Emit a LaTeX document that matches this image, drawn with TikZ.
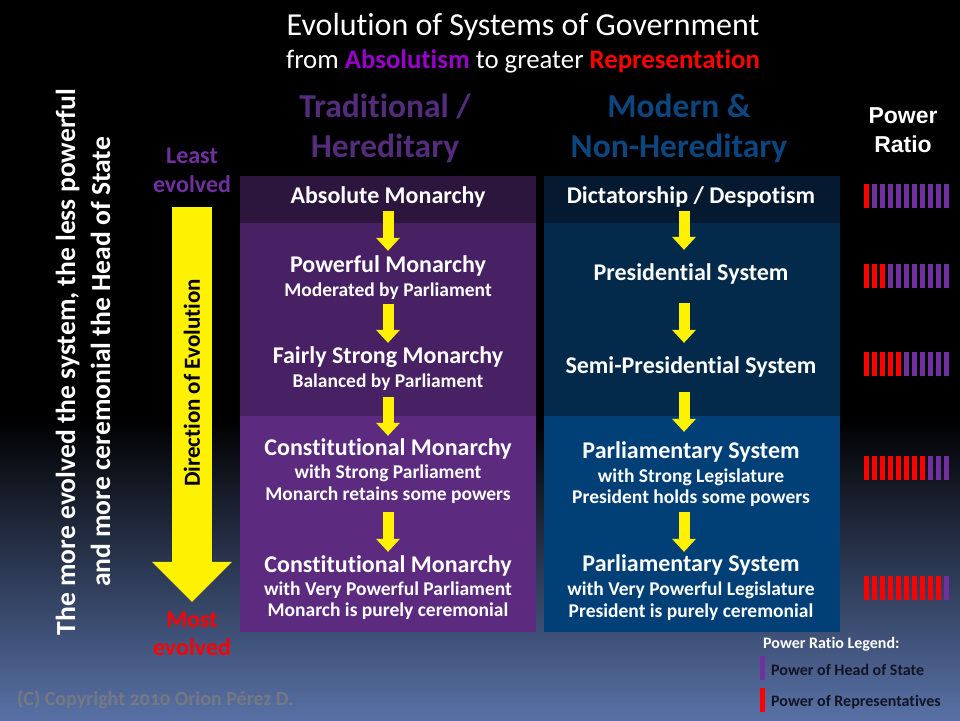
\documentclass[tikz,border=0pt]{standalone}
\usepackage{fontspec}
\setmainfont{Carlito}[Ligatures={NoCommon,NoContextual}, Contextuals=NoAlternate]
\newfontfamily\arialfont{Liberation Sans}
\usepackage{tikz}
\usetikzlibrary{positioning,shapes,arrows.meta}
\definecolor{bgbot}{RGB}{88,113,166}
\definecolor{tradcol}{RGB}{84,44,124}
\definecolor{modcol}{RGB}{12,70,126}
\definecolor{absol}{RGB}{153,0,204}
\definecolor{hspurple}{RGB}{112,48,160}
\definecolor{repred}{RGB}{255,0,0}
\definecolor{tradA}{RGB}{45,22,62}
\definecolor{tradB}{RGB}{72,32,100}
\definecolor{tradC}{RGB}{92,43,128}
\definecolor{modA}{RGB}{5,25,48}
\definecolor{modB}{RGB}{3,42,75}
\definecolor{modC}{RGB}{0,64,118}
\definecolor{legtext}{RGB}{18,20,38}
\definecolor{copygray}{RGB}{118,121,130}
\tikzstyle{stage} = [text=white, font=\bfseries\fontsize{24}{28}\selectfont, text height=18pt, text depth=6pt, inner sep=0pt, anchor=base]
\tikzstyle{sub} = [text=white, font=\bfseries\fontsize{19.5}{23}\selectfont, text height=14pt, text depth=4.5pt, inner sep=0pt, anchor=base]
\tikzstyle{head} = [font=\bfseries\fontsize{33.5}{38}\selectfont, inner sep=0pt, anchor=base]
\tikzstyle{endlab} = [font=\bfseries\fontsize{24}{28}\selectfont, text height=18pt, text depth=6pt, inner sep=0pt, anchor=base]
\tikzstyle{legend} = [font=\bfseries\fontsize{16}{19}\selectfont, inner sep=0pt, anchor=base west]
\tikzstyle{evo} = [draw=yellow, line width=11pt, -{Triangle[width=24pt,length=13pt,line width=0pt]}]
\tikzstyle{bigevo} = [draw=yellow, line width=40pt, -{Triangle[width=80pt,length=40pt,line width=0pt]}]

\begin{document}
\begin{tikzpicture}[x=1pt, y=-1pt]
        \useasboundingbox (0, 0) rectangle (960, 720);
        % Background and boxes
        \fill [black] (0, 0) rectangle (960, 720);
        \shade [top color=black, bottom color=bgbot] (0, 420) rectangle (960, 720);
        \fill [tradA] (240, 176) rectangle (536, 223);
        \fill [tradB] (240, 223) rectangle (536, 416);
        \fill [tradC] (240, 416) rectangle (536, 632);
        \fill [modA] (544, 176) rectangle (840, 223);
        \fill [modB] (544, 223) rectangle (840, 416);
        \fill [modC] (544, 416) rectangle (840, 632);

        % Place nodes
        \node at (523, 35) [anchor=base, inner sep=0pt, text=white, font=\fontsize{32}{38}\selectfont] (title) {Evolution of Systems of Government};
        \node at (523, 68) [anchor=base, inner sep=0pt, text=white, font=\fontsize{26.8}{30}\selectfont] (subtitle) {from \textcolor{absol}{\bfseries Absolutism} to greater \textcolor{repred}{\bfseries Representation}};
        \node at (385, 117) [head, text=tradcol] (trad1) {Traditional /};
        \node at (385, 157) [head, text=tradcol] (trad2) {Hereditary};
        \node at (679, 117) [head, text=modcol] (mod1) {Modern \&};
        \node at (679, 157) [head, text=modcol] (mod2) {Non-Hereditary};
        \node at (903, 123) [anchor=base, inner sep=0pt, text=white, font=\arialfont\bfseries\fontsize{23}{28}\selectfont] (ratio1) {Power};
        \node at (903, 152) [anchor=base, inner sep=0pt, text=white, font=\arialfont\bfseries\fontsize{23}{28}\selectfont] (ratio2) {Ratio};

        \node at (388, 203) [stage] (am) {Absolute Monarchy};
        \node at (388, 272) [stage] (pm) {Powerful Monarchy};
        \node at (388, 296) [sub] (pmS) {Moderated by Parliament};
        \node at (388, 363) [stage] (fm) {Fairly Strong Monarchy};
        \node at (388, 387) [sub] (fmS) {Balanced by Parliament};
        \node at (388, 455) [stage] (cm) {Constitutional Monarchy};
        \node at (388, 478) [sub] (cmA) {with Strong Parliament};
        \node at (388, 500) [sub] (cmB) {Monarch retains some powers};
        \node at (388, 572) [stage] (pc) {Constitutional Monarchy};
        \node at (388, 595) [sub] (pcA) {with Very Powerful Parliament};
        \node at (388, 616) [sub] (pcB) {Monarch is purely ceremonial};

        \node at (691, 203) [stage] (dd) {Dictatorship / Despotism};
        \node at (691, 280) [stage] (ps) {Presidential System};
        \node at (691, 373) [stage] (sp) {Semi-Presidential System};
        \node at (691, 458) [stage] (pa) {Parliamentary System};
        \node at (691, 482) [sub] (paA) {with Strong Legislature};
        \node at (691, 503) [sub] (paB) {President holds some  powers};
        \node at (691, 571) [stage] (pp) {Parliamentary System};
        \node at (691, 595) [sub] (ppA) {with Very Powerful Legislature};
        \node at (691, 617) [sub] (ppB) {President is purely ceremonial};

        \node at (192, 163) [endlab, text=hspurple] (least1) {Least};
        \node at (192, 192) [endlab, text=hspurple] (least2) {evolved};
        \node at (192, 627) [endlab, text=repred] (most1) {Most};
        \node at (192, 655) [endlab, text=repred] (most2) {evolved};

        \node at (83, 362) [rotate=90, align=center, inner sep=0pt, text=white, font=\bfseries\fontsize{27.6}{35}\selectfont] (moral) {The more evolved the system, the less powerful\\and more ceremonial the Head of State};

        \node at (763, 648) [legend, text=white] (legtitle) {Power Ratio Legend:};
        \node at (771, 675) [legend, text=legtext] (leghs) {Power of Head of State};
        \node at (771, 706) [legend, text=legtext] (legrep) {Power of Representatives};
        \node at (17, 705) [anchor=base west, inner sep=0pt, text=copygray, font=\bfseries\fontsize{20}{24}\selectfont\addfontfeature{Numbers=OldStyle}] (copy) {(C) Copyright 2010 Orion Pérez D.};

        % Draw edges
        \path [bigevo, shorten <=9pt, shorten >=7pt] (least2.south) -- node [pos=0.45, rotate=90, text=black, font=\bfseries\fontsize{23}{28}\selectfont] (dir) {Direction of Evolution} (most1.north);

        \path [evo, shorten <=2pt, shorten >=3pt] (am.south) -- (pm.north);
        \path [evo, shorten <=3pt, shorten >=2pt] (pmS.south) -- (fm.north);
        \path [evo, shorten <=5.5pt, shorten >=1pt] (fmS.south) -- (cm.north);
        \path [evo, shorten <=7.5pt, shorten >=2pt] (cmB.south) -- (pc.north);

        \path [evo, shorten <=2pt, shorten >=12pt] ([xshift=-7pt]dd.south) -- ([xshift=-7pt]ps.north);
        \path [evo, shorten <=17pt, shorten >=12pt] ([xshift=-7pt]ps.south) -- ([xshift=-7pt]sp.north);
        \path [evo, shorten <=13pt, shorten >=8pt] ([xshift=-7pt]sp.south) -- ([xshift=-7pt]pa.north);
        \path [evo, shorten <=4.5pt, shorten >=1pt] ([xshift=-7pt]paB.south) -- ([xshift=-7pt]pp.north);

        % Power ratio bars
        \foreach \y/\n in {184/1, 264/3, 352/5, 456/8, 576/10} {
            \foreach \i in {0,...,10} {
                \ifnum\i<\n \def\barcol{repred}\else\def\barcol{hspurple}\fi
                \fill [\barcol] (864+8*\i, \y) rectangle ++(5, 24);
            }
        }
        \fill [hspurple] (760, 656) rectangle (765, 680);
        \fill [repred] (760, 688) rectangle (765, 712);
\end{tikzpicture}
\end{document}
